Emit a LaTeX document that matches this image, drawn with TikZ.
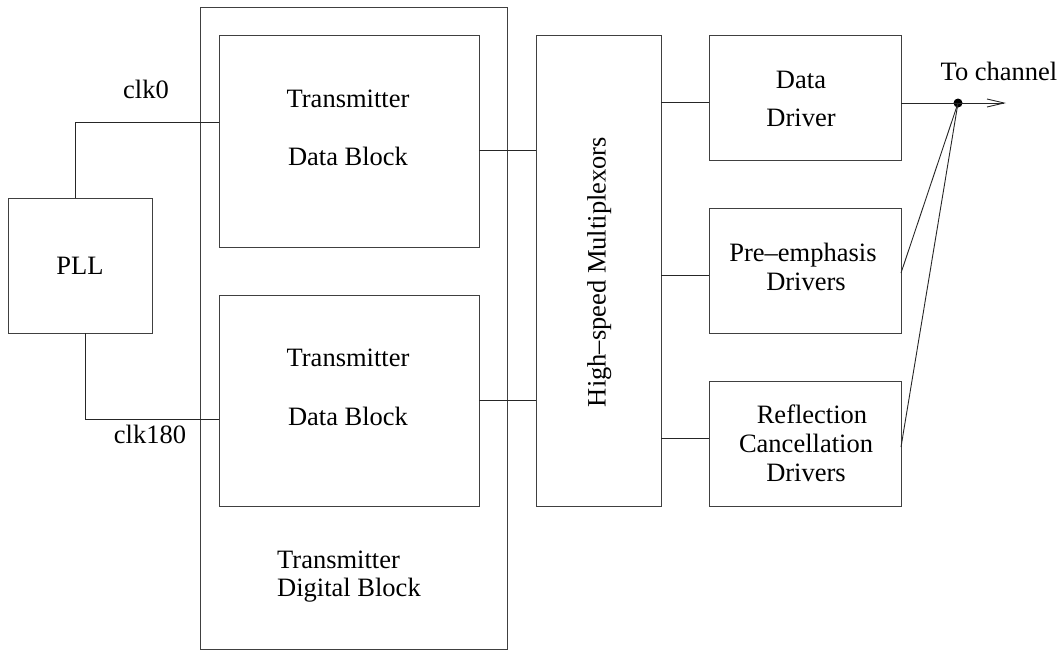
\documentclass[tikz,border=0pt]{standalone}
\usepackage{fontspec}
\setmainfont{Liberation Serif}
\usetikzlibrary{arrows.meta}
\begin{document}
\begin{tikzpicture}[x=1pt,y=-1pt,
  box/.style={draw=black!75, line width=1pt, rectangle, inner sep=0pt, outer sep=0pt},
  lbl/.style={font=\fontsize{26.5}{30}\selectfont, inner sep=0pt, text height=0.7em, text depth=0.2em},
  wire/.style={draw=black!85, line width=0.9pt},
  tip/.style={-{Straight Barb[length=17pt,width=8pt]}}
]
\useasboundingbox (0,0) rectangle (1063,654);

% boxes
\node[box, minimum width=144pt, minimum height=135pt] (pll) at (80,265.5) {};
\node[box, minimum width=307pt, minimum height=642pt] (outer) at (353.5,328) {};
\node[box, minimum width=260pt, minimum height=212pt] (upper) at (349,141) {};
\node[box, minimum width=260pt, minimum height=211pt] (lower) at (349,400.5) {};
\node[box, minimum width=125pt, minimum height=471pt] (mux) at (598.5,270.5) {};
\node[box, minimum width=192pt, minimum height=125pt] (dd) at (805,97.5) {};
\node[box, minimum width=192pt, minimum height=125pt] (pe) at (805,270.5) {};
\node[box, minimum width=192pt, minimum height=125pt] (rc) at (805,443.5) {};

% labels
\node[lbl] (pllt) at (80,272) {PLL};
\node[lbl] (clk0) at (146,96) {clk0};
\node[lbl] (clk180) at (150,441) {clk180};
\node[lbl] (ua) at (348,105) {Transmitter};
\node[lbl] (ub) at (348,163) {Data Block};
\node[lbl] (la) at (348,364) {Transmitter};
\node[lbl] (lb) at (348,423) {Data Block};
\node[lbl, anchor=west] (oa) at (277,566) {Transmitter};
\node[lbl, anchor=west] (ob) at (277,594) {Digital Block};
\node[lbl, rotate=90] (muxt) at (603,272) {High–speed Multiplexors};
\node[lbl] (dda) at (801,86) {Data};
\node[lbl] (ddb) at (801,124) {Driver};
\node[lbl] (pea) at (803,259) {Pre–emphasis};
\node[lbl] (peb) at (806,288) {Drivers};
\node[lbl] (rca) at (812,421) {Reflection};
\node[lbl] (rcb) at (806,450) {Cancellation};
\node[lbl] (rcc) at (806,479) {Drivers};
\node[lbl] (chan) at (999,78) {To channel};

% clocks
\draw[wire] ([xshift=-5pt]pll.north) |- ([yshift=19pt]upper.west);
\draw[wire] ([xshift=5pt]pll.south) |- ([yshift=-18.5pt]lower.west);

% data blocks to mux
\coordinate (u1) at ([yshift=-9pt]upper.east);
\draw[wire] (u1) -- (u1 -| mux.west);
\draw[wire] (lower.east) -- (lower.east -| mux.west);

% mux to drivers
\coordinate (d1) at ([yshift=-4.5pt]dd.west);
\coordinate (p1) at ([yshift=-4.5pt]pe.west);
\coordinate (r1) at ([yshift=5.5pt]rc.west);
\draw[wire] (d1 -| mux.east) -- (d1);
\draw[wire] (p1 -| mux.east) -- (p1);
\draw[wire] (r1 -| mux.east) -- (r1);

% output
\node[circle, fill=black, inner sep=0pt, minimum size=9pt] (dot) at (958,103) {};
\coordinate (ch) at (1006,103);
\draw[wire] ([yshift=-5.5pt]dd.east) -- (dot.center);
\draw[wire, tip] (dot.center) -- (ch);
\draw[wire] ([yshift=-2.5pt]pe.east) -- (dot.center);
\draw[wire] ([yshift=-3.5pt]rc.east) -- (dot.center);
\end{tikzpicture}
\end{document}
